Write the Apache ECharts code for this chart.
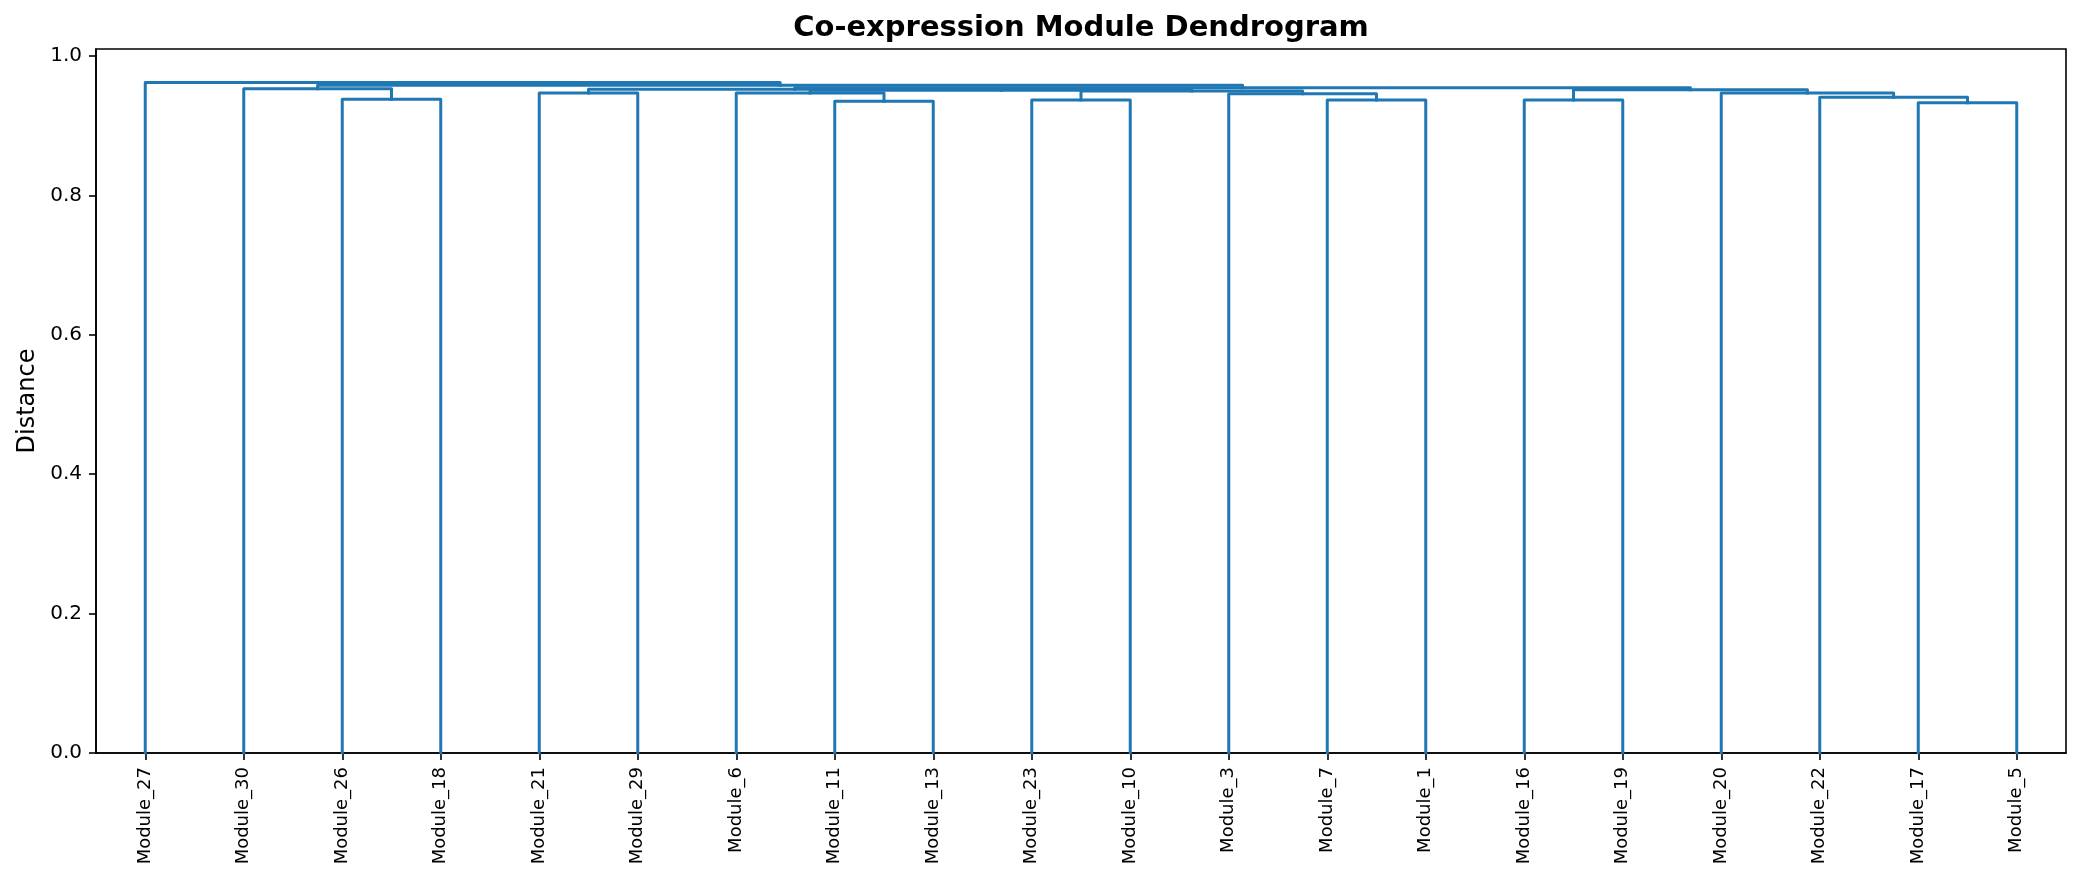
<!DOCTYPE html>
<html>
<head>
<meta charset="utf-8">
<title>Co-expression Module Dendrogram</title>
<script src="https://cdn.jsdelivr.net/npm/echarts@6.0.0/dist/echarts.min.js"></script>
<style>
  html, body { margin: 0; padding: 0; background: #fff; }
  #dendro { width: 2082px; height: 884px; }
</style>
</head>
<body>
<div id="dendro"></div>
<script>
// leaves in the order the dendrogram draws them
var leafLabels = ['Module_27', 'Module_30', 'Module_26', 'Module_18', 'Module_21',
    'Module_29', 'Module_6', 'Module_11', 'Module_13', 'Module_23', 'Module_10',
    'Module_3', 'Module_7', 'Module_1', 'Module_16', 'Module_19', 'Module_20',
    'Module_22', 'Module_17', 'Module_5'];

// linkage, scipy style: ids 0..19 are the leaves above, merge k gets id 20 + k
var mergeLeft = [18, 7, 9, 2, 12, 14, 17, 6, 11, 16, 4, 22, 27, 25, 30, 1, 34, 35, 0];
var mergeRight = [19, 8, 10, 3, 13, 15, 20, 21, 24, 26, 5, 28, 31, 29, 32, 23, 33, 36, 37];
var mergeHeight = [0.933, 0.935, 0.937, 0.938, 0.937, 0.937, 0.941, 0.947, 0.946, 0.947,
    0.947, 0.950, 0.951, 0.9515, 0.9525, 0.953, 0.9545, 0.958, 0.962];

var yTicks = [0, 0.2, 0.4, 0.6, 0.8, 1.0];

var FONT = 'DejaVu Sans';
var LINK_COLOR = '#1f77b4';

var chartDom = document.getElementById('dendro');
var dendroChart = echarts.init(chartDom, null, { renderer: 'canvas' });

// x centre and height of every node, leaves first
function buildLinks() {
    var nodeX = [];
    var nodeH = [];
    var links = [];
    for (var i = 0; i < leafLabels.length; i++) {
        nodeX.push(i);
        nodeH.push(0);
    }
    for (var k = 0; k < mergeHeight.length; k++) {
        var l = mergeLeft[k], r = mergeRight[k], h = mergeHeight[k];
        links.push({
            coords: [[nodeX[l], nodeH[l]], [nodeX[l], h], [nodeX[r], h], [nodeX[r], nodeH[r]]]
        });
        nodeX.push((nodeX[l] + nodeX[r]) / 2);
        nodeH.push(h);
    }
    return links;
}

var links = buildLinks();
// scipy leaves 5% headroom over the highest merge
var yMax = Math.max.apply(null, mergeHeight) * 1.05;

var option = {
    backgroundColor: '#fff',
    animation: false,
    title: {
        text: 'Co-expression Module Dendrogram',
        left: 1081,
        top: 14,
        padding: 0,
        textAlign: 'center',
        textStyle: {
            fontFamily: FONT,
            fontSize: 29,
            fontWeight: 'bold',
            color: '#000'
        }
    },
    grid: {
        left: 96,
        right: 16,
        top: 49,
        bottom: 131,
        show: true,
        borderColor: '#000',
        borderWidth: 1.6,
        backgroundColor: 'transparent'
    },
    xAxis: [{
        type: 'category',
        data: leafLabels,
        boundaryGap: true,
        axisLine: { show: true, onZero: false, lineStyle: { color: '#000', width: 1.6 } },
        axisTick: { show: true, alignWithLabel: true, length: 7, lineStyle: { color: '#000', width: 1.6 } },
        axisLabel: {
            interval: 0,
            rotate: 90,
            margin: 14,
            fontFamily: FONT,
            fontSize: 18,
            color: '#000'
        },
        splitLine: { show: false }
    }, {
        // hidden numeric twin of the category axis, used to place the links
        type: 'value',
        min: -0.5,
        max: leafLabels.length - 0.5,
        show: false
    }],
    yAxis: {
        type: 'value',
        min: 0,
        max: yMax,
        name: 'Distance',
        nameLocation: 'middle',
        nameGap: 56,
        nameTextStyle: { fontFamily: FONT, fontSize: 24, color: '#000' },
        axisLine: { show: true, onZero: false, lineStyle: { color: '#000', width: 1.6 } },
        axisTick: { show: true, length: 7, customValues: yTicks, lineStyle: { color: '#000', width: 1.6 } },
        axisLabel: {
            customValues: yTicks,
            margin: 14,
            fontFamily: FONT,
            fontSize: 20,
            color: '#000',
            formatter: function (v) { return v.toFixed(1); }
        },
        splitLine: { show: false }
    },
    series: [{
        name: 'links',
        type: 'lines',
        coordinateSystem: 'cartesian2d',
        xAxisIndex: 1,
        yAxisIndex: 0,
        polyline: true,
        silent: true,
        lineStyle: {
            color: LINK_COLOR,
            width: 3,
            opacity: 1,
            join: 'round',
            cap: 'square'
        },
        data: links
    }]
};

option && dendroChart.setOption(option);
</script>
</body>
</html>
